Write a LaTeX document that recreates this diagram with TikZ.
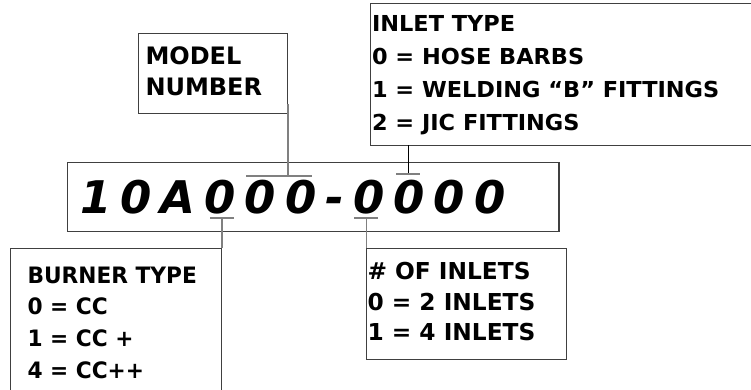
\documentclass[tikz,border=0pt]{standalone}
\usepackage{fontspec}
\setmainfont{DejaVu Sans}
\newfontfamily\numfont{DejaVu Sans}[LetterSpace=20]
\newfontfamily\burnfont{DejaVu Sans}[FakeStretch=0.96]
\newfontfamily\inletfont{DejaVu Sans}[FakeStretch=1.02]
\definecolor{boxgray}{gray}{0.25}
\definecolor{tickgray}{gray}{0.5}
\begin{document}
\begin{tikzpicture}[x=1pt,y=-1pt,
  box/.style={draw=boxgray, line width=1pt, outer sep=0pt, inner sep=0pt, anchor=north west, rectangle},
  lbl/.style={inner sep=0pt, outer sep=0pt, anchor=north west, align=left, text=black},
  tickline/.style={draw=tickgray, line width=2pt},
  conngray/.style={draw=tickgray, line width=1.2pt},
  connblack/.style={draw=black, line width=1pt}]
\clip (0,0) rectangle (751,389);
\fill[white] (0,0) rectangle (751,389);
% boxes
\node[box, minimum width=149, minimum height=80] (model) at (138,33) {};
\node[box, minimum width=420, minimum height=142] (inlet) at (370,3) {};
\node[box, minimum width=491.8, minimum height=68.7] (main) at (67.5,162.3) {};
\draw[boxgray, line width=1.8pt] (main.north east) -- (main.south east);
\node[box, minimum width=210.3, minimum height=170] (burner) at (10.7,248.3) {};
\node[box, minimum width=200, minimum height=111] (ninl) at (366,248.3) {};
% texts
\node[lbl, font=\fontsize{24}{31}\selectfont\bfseries] (modeltxt) at (145.5,46.7) {MODEL\\NUMBER};
\node[lbl, font=\inletfont\fontsize{22}{33.1}\selectfont\bfseries] (inlettxt) at (372,15) {INLET TYPE\\0 = HOSE BARBS\\1 = WELDING “B” FITTINGS\\2 = JIC FITTINGS};
\node[lbl, font=\burnfont\fontsize{22.6}{31.7}\selectfont\bfseries] (burnertxt) at (27.5,266.7) {BURNER TYPE\\0 = CC\\1 = CC +\\4 = CC++};
\node[lbl, font=\fontsize{23.3}{30.5}\selectfont\bfseries] (ninltxt) at (367.5,262.5) {\# OF INLETS\\0 = 2 INLETS\\1 = 4 INLETS};
\node[inner sep=0pt, anchor=base west, font=\numfont\fontsize{45}{45}\selectfont\bfseries\itshape] (pn) at (80,213.3) {10A000-0000};
% tick coordinates
\coordinate (mt) at (288,175.7);
\coordinate (m1) at (288,104);
\coordinate (it) at (408.5,174.3);
\coordinate (bt) at (222,218);
\coordinate (nt) at (366.7,218);
% connectors
\draw[conngray] (m1) -- (mt);
\draw[tickline] (246,175.7) -- (312,175.7);
\draw[connblack] (it |- inlet.south) -- (it);
\draw[tickline] (396,174.3) -- (420,174.3);
\draw[tickline] (210,218) -- (234,218);
\draw[conngray] (bt) -- (bt |- burner.north);
\draw[tickline] (354,218) -- (378.3,218);
\draw[conngray] (nt) -- (nt |- ninl.north);
\end{tikzpicture}
\end{document}
